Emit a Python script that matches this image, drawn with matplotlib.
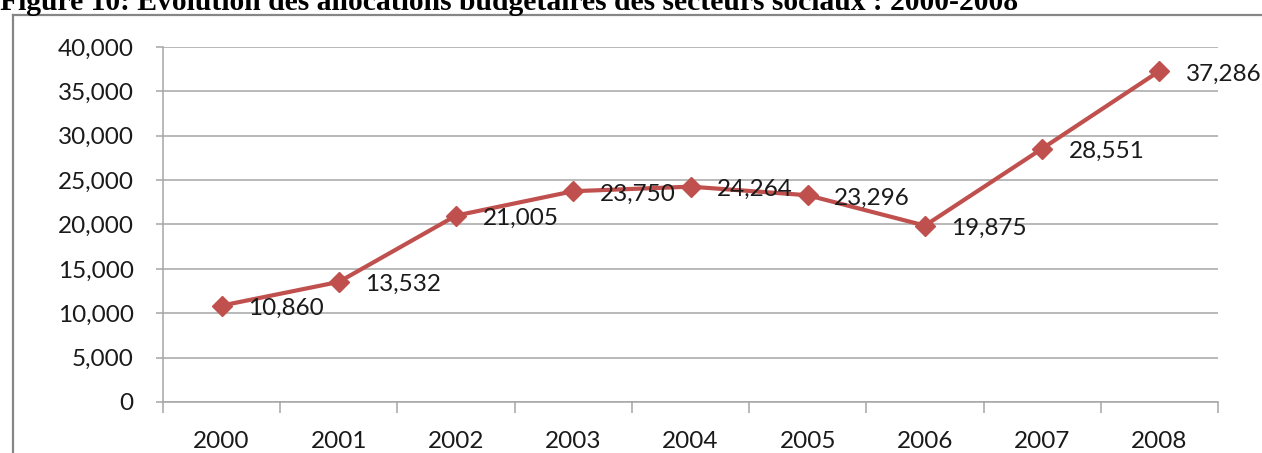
import matplotlib.pyplot as plt
from matplotlib.lines import Line2D
from matplotlib.ticker import FuncFormatter, MultipleLocator

years = ["2000", "2001", "2002", "2003", "2004", "2005", "2006", "2007", "2008"]
allocations = [10860, 13532, 21005, 23750, 24264, 23296, 19875, 28551, 37286]

title = "Figure 10: Evolution des allocations budgetaires des secteurs sociaux : 2000-2008"

W, H = 1262, 453
fig = plt.figure(figsize=(W / 100, H / 100), dpi=100)

# title sits above the chart frame, partly clipped at the top edge
fig.text(0.0, 1 - 10 / H, title, family="Liberation Serif", weight="bold",
         fontsize=21.3, ha="left", va="baseline")

# chart frame (top and left edges visible)
frame = "#868686"
fig.add_artist(Line2D([12.5 / W, 1.0], [1 - 15 / H, 1 - 15 / H], color=frame, lw=1.6))
fig.add_artist(Line2D([12.5 / W, 12.5 / W], [0.0, 1 - 15 / H], color=frame, lw=1.6))

ax = fig.add_axes([163 / W, 51 / H, 1055 / W, 355 / H])
x = list(range(len(years)))

ax.plot(x, allocations, color="#C0504D", lw=3, marker="D", markersize=10,
        markeredgecolor="#C0504D", zorder=3)

for xi, v in zip(x, allocations):
    ax.annotate(f"{v:,}", (xi, v), xytext=(19, -2), textcoords="offset points",
                ha="left", va="center", family="Lato", fontsize=17.5, color="#1a1a1a")

grid = "#a6a6a6"
ax.set_xlim(-0.5, len(years) - 0.5)
ax.set_ylim(0, 40000)
ax.yaxis.set_major_locator(MultipleLocator(5000))
ax.yaxis.set_major_formatter(FuncFormatter(lambda v, p: f"{int(v):,}"))
ax.grid(axis="y", color=grid, lw=1.1)
ax.set_axisbelow(True)

ax.set_xticks(x)
ax.set_xticklabels(years)
ax.set_xticks([i - 0.5 for i in range(len(years) + 1)], minor=True)
ax.tick_params(axis="x", which="major", length=0, pad=21)
ax.tick_params(axis="x", which="minor", length=8, width=1.1, color=grid, direction="out")
ax.tick_params(axis="y", length=5, width=1.1, color=grid, pad=16)

for lab in ax.get_xticklabels() + ax.get_yticklabels():
    lab.set_family("Lato")
    lab.set_fontsize(17.5)
    lab.set_color("#1a1a1a")

for side in ["top", "right"]:
    ax.spines[side].set_visible(False)
for side in ["left", "bottom"]:
    ax.spines[side].set_color(grid)
    ax.spines[side].set_linewidth(1.1)

fig.savefig("out.png", dpi=100)
